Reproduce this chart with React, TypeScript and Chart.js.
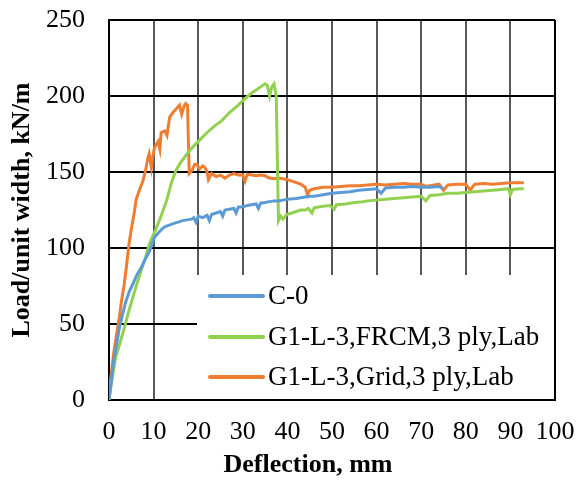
import React, { useEffect, useRef } from "react";
import { Chart, registerables } from "chart.js";

Chart.register(...registerables);

const seriesLabels = ["C-0", "G1-L-3,FRCM,3 ply,Lab", "G1-L-3,Grid,3 ply,Lab"];
const seriesColors = ["#5B9BD5", "#92D050", "#ED7D31"];
const xAxisTitle = "Deflection, mm";
const yAxisTitle = "Load/unit width, kN/m";

const xTicks = [0, 10, 20, 30, 40, 50, 60, 70, 80, 90, 100];
const yTicks = [0, 50, 100, 150, 200, 250];

// C-0 (deflection mm, load kN/m)
const c0Points: [number, number][] = [
  [0, 0], [0.5, 12], [1, 25], [1.5, 33], [2.3, 47], [3, 56], [3.8, 65], [4.5, 71], [5.3, 76],
  [6.2, 82], [7.2, 87], [8.2, 93], [9.1, 98], [9.8, 104], [10.2, 107], [10.8, 109], [11.7, 112],
  [12.5, 114], [13.5, 115], [14.4, 116], [15.5, 117], [16.5, 118], [17.5, 118.5], [18.5, 119],
  [19, 120], [19.5, 117], [20, 121], [21, 120], [22, 121.5], [22.5, 118], [23, 122], [24, 123],
  [25, 124], [25.5, 121], [26, 125], [27, 125.5], [28, 126], [28.5, 123], [29, 127], [30, 127],
  [31, 128], [32, 128.5], [33, 129], [33.5, 126], [34, 129.5], [35, 130], [36, 130.5], [37, 131],
  [38, 131], [39, 131.5], [40, 132], [42, 132.5], [43, 133], [44, 133.5], [45, 134], [46, 134],
  [47, 134.5], [48, 135], [50, 136], [52, 136.5], [54, 137], [55, 137.5], [56, 138], [58, 138.5],
  [60, 139], [61, 136], [62, 139.5], [64, 140], [66, 140], [68, 140.5], [70, 140], [72, 140],
  [74, 140.5], [75, 139],
];

// G1-L-3, FRCM, 3 ply, Lab
const frcmPoints: [number, number][] = [
  [0, 0], [0.3, 6], [0.8, 16], [1.5, 28], [2.5, 38], [3.4, 47], [4.3, 57], [5.3, 67], [6.2, 76],
  [7.2, 85], [8.2, 94], [9.1, 103], [10, 109], [10.6, 113], [11.8, 122], [12.9, 131], [14, 143],
  [15, 151], [16, 156], [17, 160], [18, 164], [19, 167], [20, 170], [21, 173], [22, 176],
  [23, 178.5], [24, 181], [25, 183], [26, 186], [27, 189], [28, 191.5], [29, 194], [30, 197],
  [31, 199.5], [32, 202], [33, 204], [34, 206], [35, 208], [35.5, 207], [36, 200], [36.5, 206],
  [37, 208], [37.5, 200], [37.8, 150], [38, 118], [38.5, 121], [39, 119], [39.8, 122], [41, 123],
  [42, 124], [43, 125], [44, 125], [44.7, 126], [45.5, 123], [46, 126.5], [48, 127.5], [49.6, 128],
  [50.5, 125.5], [51, 128.5], [53, 129], [55, 130], [57, 130.5], [58, 131], [60, 131.5], [62, 132],
  [64, 132.5], [66, 133], [68, 133.5], [70, 134], [71, 131], [72, 134.5], [74, 135], [75, 135.5],
  [76, 136], [78, 136], [80, 136.5], [82, 137], [84, 137.5], [86, 138], [88, 138.5], [89.6, 139],
  [90, 135], [90.5, 138.5], [92, 139], [93, 139],
];

// G1-L-3, Grid, 3 ply, Lab
const gridPoints: [number, number][] = [
  [0, 0], [0.3, 12], [0.7, 22], [1.1, 32], [1.7, 43], [2.3, 54], [2.8, 65], [3.4, 76], [4, 90],
  [4.5, 103], [5.1, 114], [5.7, 124], [6.1, 132], [6.8, 138], [7.6, 144], [8.2, 151], [8.7, 159],
  [9, 162], [9.5, 153], [9.8, 160], [10.2, 166], [11, 170], [11.4, 165], [11.7, 176], [12.5, 177],
  [13, 174], [13.6, 186], [14.3, 189], [15.2, 192], [15.8, 194], [16.3, 188], [16.8, 193],
  [17.2, 195], [17.6, 194], [17.8, 170], [18, 149], [18.6, 151], [19.2, 155], [19.7, 155],
  [20.3, 152], [21, 154], [21.5, 153], [22, 150], [22.3, 145], [23, 149], [24, 147], [25, 148],
  [26, 146], [27, 148], [28, 149], [29, 148], [30, 148], [30.5, 144], [31, 148.5], [32, 148],
  [33, 147.5], [34, 148], [35, 147.5], [36, 146], [37, 145.5], [38, 146], [39, 145.5], [40, 145],
  [41, 144], [42, 143], [43, 142], [44, 140], [44.5, 135], [45, 138], [46, 139], [47, 139.5],
  [48, 140], [50, 140], [52, 140.5], [54, 141], [56, 141], [58, 141.5], [60, 142], [62, 141.5],
  [64, 142], [66, 142.5], [68, 142], [70, 142], [71, 140.5], [72, 141], [74, 142], [75, 138],
  [76, 141.5], [78, 142], [80, 142], [81, 138], [82, 142], [84, 142.5], [86, 142], [88, 142.5],
  [90, 143], [92, 143], [93, 143],
];

const allSeries = [c0Points, frcmPoints, gridPoints];

const FONT = "'Liberation Serif', 'Times New Roman', serif";

const legendBoxPlugin = {
  id: "legendBox",
  beforeDatasetsDraw(chart: any) {
    const { ctx, chartArea } = chart;
    const left = chartArea.left + 88;
    const top = chartArea.top + 255;
    ctx.save();
    ctx.fillStyle = "#ffffff";
    ctx.fillRect(left, top, chartArea.right - 1 - left, chartArea.bottom - 1 - top);
    const rows = [276, 317, 357];
    ctx.font = `27px ${FONT}`;
    ctx.textBaseline = "middle";
    ctx.textAlign = "left";
    chart.data.datasets.forEach((ds: any, i: number) => {
      const y = chartArea.top + rows[i];
      ctx.strokeStyle = ds.borderColor;
      ctx.lineWidth = 4;
      ctx.lineCap = "round";
      ctx.beginPath();
      ctx.moveTo(chartArea.left + 101, y);
      ctx.lineTo(chartArea.left + 154, y);
      ctx.stroke();
      ctx.fillStyle = "#000000";
      ctx.fillText(ds.label, chartArea.left + 159, y + 1);
    });
    ctx.restore();
  },
  afterDraw(chart: any) {
    const { ctx, chartArea } = chart;
    ctx.save();
    ctx.font = `bold 26px ${FONT}`;
    ctx.fillStyle = "#000";
    ctx.textAlign = "center";
    ctx.textBaseline = "middle";
    ctx.fillText(xAxisTitle, (chartArea.left + chartArea.right) / 2 - 24, 465);
    ctx.restore();
  },
};

export default function App() {
  const canvasRef = useRef<HTMLCanvasElement | null>(null);

  useEffect(() => {
    document.body.style.margin = "0";
    const canvas = canvasRef.current;
    if (!canvas) return;
    const chart = new Chart(canvas, {
      type: "line",
      data: {
        datasets: allSeries.map((pts, i) => ({
          label: seriesLabels[i],
          data: pts.map(([x, y]) => ({ x, y })),
          borderColor: seriesColors[i],
          backgroundColor: seriesColors[i],
          borderWidth: 3,
          pointRadius: 0,
          tension: 0,
          fill: false,
        })),
      },
      options: {
        responsive: false,
        animation: false,
        parsing: true,
        layout: { padding: { left: 0, top: 20, right: 21, bottom: 0 } },
        plugins: {
          legend: { display: false },
          tooltip: { enabled: false },
        },
        scales: {
          x: {
            type: "linear",
            min: 0,
            max: 100,
            afterBuildTicks: (scale: any) => {
              scale.ticks = xTicks.map((v) => ({ value: v }));
            },
            afterFit: (scale: any) => {
              scale.height = 81;
              scale.paddingLeft = 0;
              scale.paddingRight = 0;
            },
            ticks: {
              color: "#000",
              font: { family: FONT, size: 26 },
              padding: 17,
              maxRotation: 0,
            },
            grid: {
              color: (c: any) => (c.index === xTicks.length - 1 ? "#000" : "#595959"),
              lineWidth: 2,
              drawTicks: false,
            },
            border: { display: true, color: "#000", width: 2 },
            title: { display: false },
          },
          y: {
            type: "linear",
            min: 0,
            max: 250,
            afterBuildTicks: (scale: any) => {
              scale.ticks = yTicks.map((v) => ({ value: v }));
            },
            afterFit: (scale: any) => {
              scale.width = 109;
              scale.paddingTop = 0;
              scale.paddingBottom = 0;
            },
            ticks: {
              color: "#000",
              font: { family: FONT, size: 26 },
              padding: 24,
            },
            grid: {
              color: "#000",
              lineWidth: 2,
              drawTicks: false,
            },
            border: { display: true, color: "#000", width: 2 },
            title: {
              display: true,
              text: yAxisTitle,
              color: "#000",
              font: { family: FONT, size: 26, weight: "bold" },
              padding: { top: 7, bottom: 0 },
            },
          },
        },
      },
      plugins: [legendBoxPlugin],
    } as any);
    return () => chart.destroy();
  }, []);

  return (
    <div style={{ width: 576, height: 481 }}>
      <canvas ref={canvasRef} width={576} height={481} style={{ display: "block" }} />
    </div>
  );
}
